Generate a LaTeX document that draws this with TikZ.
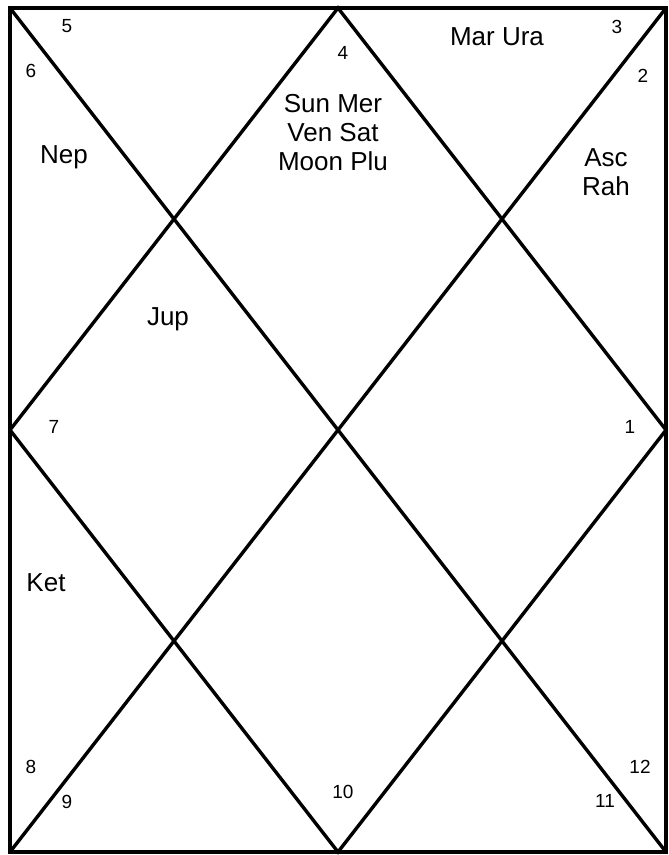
\documentclass[tikz,border=0pt]{standalone}
\usepackage{fontspec}
\setmainfont{Liberation Sans}
\usetikzlibrary{positioning}

\begin{document}
\begin{tikzpicture}[
    x=1pt, y=-1pt,
    houseline/.style={
        line width=3.4pt,
        black,
        line join=miter,
    },
    planet/.style={
        inner sep=0pt,
        align=center,
        font=\fontsize{26}{29}\selectfont,
    },
    housenum/.style={
        inner sep=0pt,
        anchor=base,
        font=\fontsize{19}{21}\selectfont,
    },
]
    \useasboundingbox (0,0) rectangle (669,855);

    % Chart corners and mid points
    \coordinate (tl) at (10,8);
    \coordinate (tr) at (666,8);
    \coordinate (br) at (666,852);
    \coordinate (bl) at (10,852);
    \coordinate (tm) at (338,8);
    \coordinate (rm) at (666,430);
    \coordinate (bm) at (338,852);
    \coordinate (lm) at (10,430);

    % Frame, diagonals and inner diamond
    \draw[houseline] (tl) rectangle (br);
    \draw[houseline] (tl) -- (br);
    \draw[houseline] (tr) -- (bl);
    \draw[houseline] (tm) -- (rm) -- (bm) -- (lm) -- cycle;

    % House numbers
    \node[housenum] (h1)  at (630,433) {1};
    \node[housenum] (h2)  at (643,82)  {2};
    \node[housenum] (h3)  at (617,33)  {3};
    \node[housenum] (h4)  at (343,59)  {4};
    \node[housenum] (h5)  at (67,32)   {5};
    \node[housenum] (h6)  at (31,77)   {6};
    \node[housenum] (h7)  at (54,433)  {7};
    \node[housenum] (h8)  at (31,773)  {8};
    \node[housenum] (h9)  at (67,808)  {9};
    \node[housenum] (h10) at (343,798) {10};
    \node[housenum] (h11) at (605,807) {11};
    \node[housenum] (h12) at (640,773) {12};

    % Planets
    \node[planet] (p1) at (333,133) {Sun Mer\\Ven Sat\\Moon Plu};
    \node[planet, anchor=base] (p3) at (497,45) {Mar Ura};
    \node[planet] (p2) at (606,172) {Asc\\Rah};
    \node[planet, anchor=base] (p6) at (64,163) {Nep};
    \node[planet, anchor=base] (p7) at (168,325) {Jup};
    \node[planet, anchor=base] (p8) at (46,591) {Ket};

\end{tikzpicture}
\end{document}
